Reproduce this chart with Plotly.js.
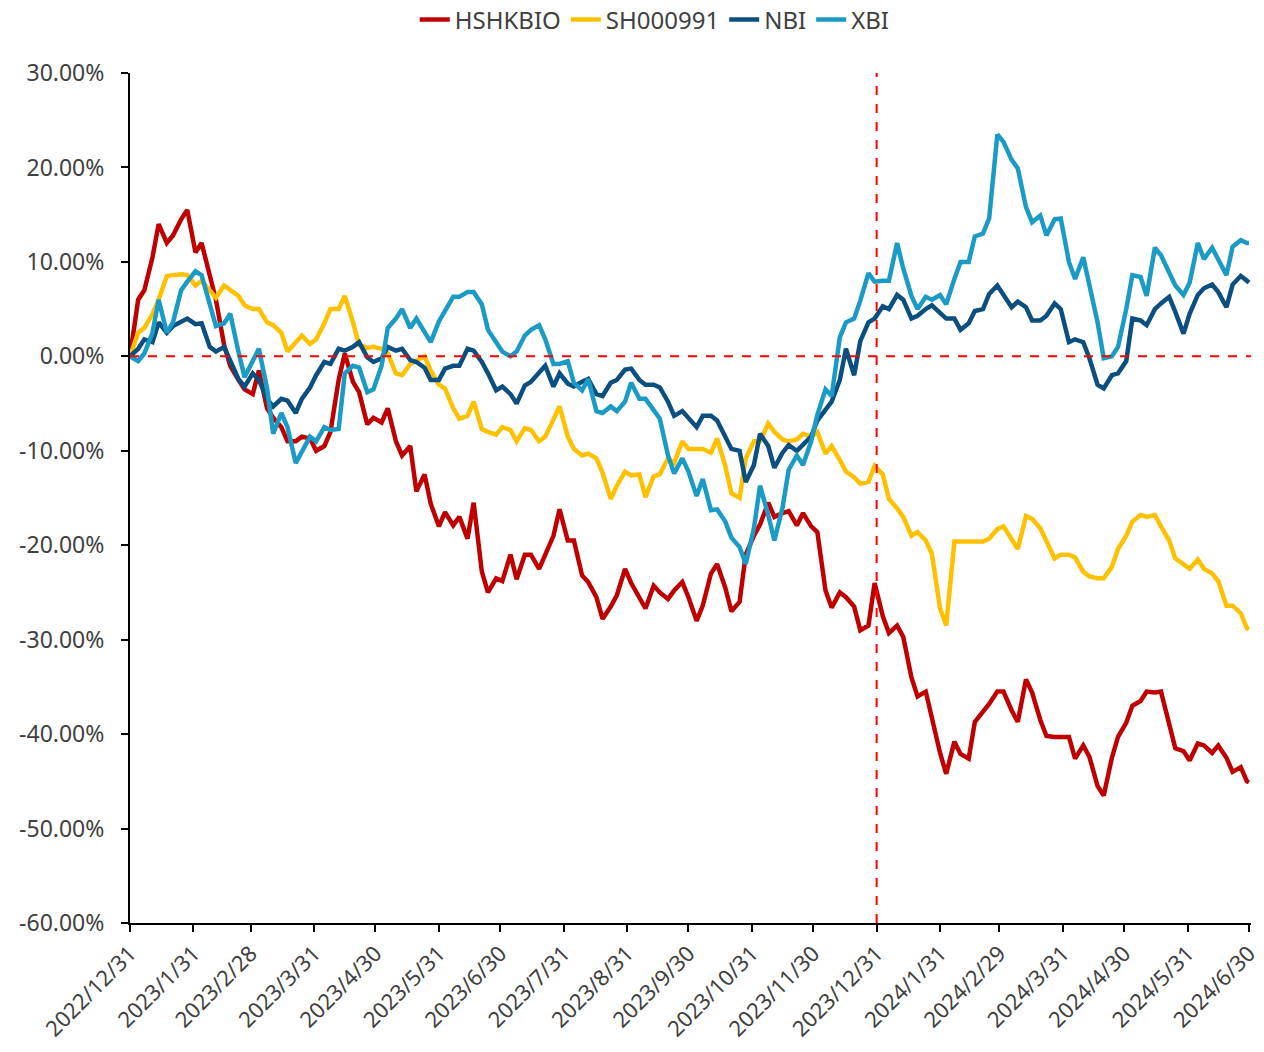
<!DOCTYPE html>
<html>
<head>
<meta charset="utf-8">
<script src="https://cdn.plot.ly/plotly-3.0.1.min.js"></script>
<style>html,body{margin:0;padding:0;background:#fff;}#chart{width:1264px;height:1052px;}</style>
</head>
<body>
<div id="chart"></div>
<script>
const dates = [
"2022-12-31","2023-01-04","2023-01-07","2023-01-11","2023-01-14","2023-01-18","2023-01-21","2023-01-25","2023-01-28","2023-02-01",
"2023-02-04","2023-02-08","2023-02-11","2023-02-15","2023-02-18","2023-02-22","2023-02-25","2023-03-01","2023-03-04","2023-03-08",
"2023-03-11","2023-03-15","2023-03-18","2023-03-22","2023-03-25","2023-03-29","2023-04-01","2023-04-05","2023-04-08","2023-04-12",
"2023-04-15","2023-04-19","2023-04-22","2023-04-26","2023-04-29","2023-05-03","2023-05-06","2023-05-10","2023-05-13","2023-05-17",
"2023-05-20","2023-05-24","2023-05-27","2023-05-31","2023-06-03","2023-06-07","2023-06-10","2023-06-14","2023-06-17","2023-06-21",
"2023-06-24","2023-06-28","2023-07-01","2023-07-05","2023-07-08","2023-07-12","2023-07-15","2023-07-19","2023-07-22","2023-07-26",
"2023-07-29","2023-08-02","2023-08-05","2023-08-09","2023-08-12","2023-08-16","2023-08-19","2023-08-23","2023-08-26","2023-08-30",
"2023-09-02","2023-09-06","2023-09-09","2023-09-13","2023-09-16","2023-09-20","2023-09-23","2023-09-27","2023-09-30","2023-10-04",
"2023-10-07","2023-10-11","2023-10-14","2023-10-18","2023-10-21","2023-10-25","2023-10-28","2023-11-01","2023-11-04","2023-11-08",
"2023-11-11","2023-11-15","2023-11-18","2023-11-22","2023-11-25","2023-11-29","2023-12-02","2023-12-06","2023-12-09","2023-12-13",
"2023-12-16","2023-12-20","2023-12-23","2023-12-27","2023-12-30","2024-01-03","2024-01-06","2024-01-10","2024-01-13","2024-01-17",
"2024-01-20","2024-01-24","2024-01-27","2024-01-31","2024-02-03","2024-02-07","2024-02-10","2024-02-14","2024-02-17","2024-02-21",
"2024-02-24","2024-02-28","2024-03-02","2024-03-06","2024-03-09","2024-03-13","2024-03-16","2024-03-20","2024-03-23","2024-03-27",
"2024-03-30","2024-04-03","2024-04-06","2024-04-10","2024-04-13","2024-04-17","2024-04-20","2024-04-24","2024-04-27","2024-05-01",
"2024-05-04","2024-05-08","2024-05-11","2024-05-15","2024-05-18","2024-05-22","2024-05-25","2024-05-29","2024-06-01","2024-06-05",
"2024-06-08","2024-06-12","2024-06-15","2024-06-19","2024-06-22","2024-06-26","2024-06-29","2024-06-30"
];

const hshkbio = [
0,6.0,7.0,10.5,14.0,12.0,12.8,14.5,15.5,11.0,
12.0,8.5,6.0,1.2,-1.0,-2.5,-3.5,-4.0,-1.5,-5.5,
-6.5,-7.5,-9.0,-9.0,-8.5,-8.7,-10.0,-9.5,-8.0,-2.5,
0.3,-2.7,-3.8,-7.2,-6.5,-7.0,-5.5,-9.0,-10.5,-9.5,
-14.3,-12.5,-15.6,-18.0,-16.5,-17.9,-17.0,-19.3,-15.5,-22.8,
-25.0,-23.5,-23.8,-21.0,-23.6,-21.0,-21.0,-22.5,-21.0,-19.0,
-16.2,-19.5,-19.5,-23.2,-23.9,-25.5,-27.8,-26.5,-25.3,-22.5,
-24.0,-25.5,-26.7,-24.3,-25.0,-25.7,-24.8,-23.9,-25.5,-28.0,
-26.4,-23.0,-22.0,-24.5,-27.0,-26.0,-21.0,-19.0,-17.8,-15.5,
-17.0,-16.6,-16.4,-17.9,-16.6,-18.0,-18.6,-24.8,-26.6,-25.0,
-25.5,-26.5,-29.0,-28.5,-24.0,-27.5,-29.3,-28.5,-29.7,-34.0,
-36.0,-35.5,-38.5,-42.0,-44.2,-40.8,-42.1,-42.6,-38.7,-37.7,
-36.8,-35.5,-35.5,-37.5,-38.7,-34.2,-35.6,-38.5,-40.2,-40.3,
-40.3,-40.3,-42.6,-41.2,-42.4,-45.5,-46.5,-42.5,-40.3,-38.8,
-37.0,-36.5,-35.5,-35.6,-35.5,-39.0,-41.5,-41.8,-42.8,-41.0,
-41.2,-42.0,-41.2,-42.5,-44.0,-43.5,-45.0,-45.1
];

const sh000991 = [
0,2.5,3.0,4.5,6.0,8.5,8.6,8.7,8.6,7.5,
8.0,7.0,6.2,7.5,7.0,6.4,5.4,5.0,5.0,3.6,
3.3,2.5,0.5,1.5,2.2,1.3,1.8,3.5,5.0,5.0,
6.4,3.6,1.2,0.9,1.0,0.8,0.3,-1.8,-2.0,-0.8,
-0.5,0.0,-1.5,-3.0,-3.4,-5.5,-6.6,-6.3,-4.8,-7.7,
-8.0,-8.3,-7.5,-7.8,-9.0,-7.6,-7.8,-9.0,-8.5,-6.8,
-5.3,-8.5,-9.8,-10.5,-10.3,-10.8,-12.3,-15.1,-13.7,-12.2,
-12.6,-12.5,-14.9,-12.7,-12.5,-10.8,-11.3,-9.0,-9.8,-9.8,
-9.8,-10.2,-8.7,-11.6,-14.5,-15.0,-10.8,-9.0,-9.0,-7.1,
-8.0,-8.8,-9.0,-8.8,-8.2,-8.5,-8.0,-10.3,-9.5,-11.0,
-12.2,-12.8,-13.5,-13.3,-11.6,-12.5,-15.1,-16.1,-17.0,-19.0,
-18.6,-19.5,-20.9,-26.7,-28.5,-19.6,-19.6,-19.6,-19.6,-19.6,
-19.3,-18.3,-18.0,-19.5,-20.4,-16.9,-17.2,-18.2,-19.5,-21.4,
-21.0,-21.0,-21.3,-22.8,-23.3,-23.5,-23.5,-22.3,-20.4,-19.0,
-17.5,-16.8,-17.0,-16.8,-18.0,-19.5,-21.4,-22.0,-22.5,-21.5,
-22.5,-23.0,-23.8,-26.4,-26.4,-27.2,-28.8,-28.9
];

const nbi = [
0,0.8,1.8,1.5,3.6,2.5,3.2,3.7,4.0,3.4,
3.5,1.0,0.5,1.0,-0.5,-2.4,-3.2,-1.8,-2.5,-4.5,
-5.3,-4.5,-4.7,-6.0,-4.5,-3.3,-2.0,-0.6,-0.8,0.8,
0.6,1.0,1.5,-0.1,-0.6,-0.2,1.0,0.6,0.8,-0.4,
-0.6,-1.2,-2.5,-2.5,-1.3,-1.0,-1.0,0.8,0.6,-0.6,
-1.8,-3.6,-3.2,-4.0,-5.0,-3.1,-2.7,-1.7,-1.0,-3.2,
-1.8,-2.9,-3.2,-2.7,-2.4,-4.0,-4.2,-2.8,-2.5,-1.4,
-1.3,-2.5,-3.0,-3.0,-3.3,-4.8,-6.3,-5.8,-6.5,-7.5,
-6.3,-6.3,-6.8,-8.5,-9.8,-10.0,-13.3,-11.5,-8.2,-9.5,
-11.8,-10.2,-9.4,-10.0,-9.4,-8.5,-6.8,-5.7,-4.8,-2.5,
0.8,-2.0,1.6,3.6,4.0,5.3,5.0,6.5,6.0,4.0,
4.3,5.0,5.4,4.6,4.0,4.0,2.8,3.5,4.8,5.0,
6.6,7.5,6.5,5.2,5.8,5.2,3.8,3.8,4.3,5.6,
5.0,1.5,1.8,1.5,-0.2,-3.0,-3.4,-2.0,-1.8,-0.5,
4.0,3.8,3.3,5.0,5.6,6.3,4.7,2.4,4.5,6.5,
7.2,7.6,6.8,5.2,7.6,8.5,8.0,7.8
];

const xbi = [
0,-0.5,0.3,2.5,6.0,2.5,3.6,7.0,7.9,9.0,
8.6,5.4,3.2,3.5,4.5,0.5,-2.2,-0.5,0.8,-3.4,
-8.2,-6.0,-7.5,-11.3,-10.1,-8.5,-9.0,-7.5,-7.8,-7.7,
-1.8,-1.0,-1.2,-3.8,-3.5,-1.0,3.0,4.0,5.0,3.0,
4.0,2.6,1.5,3.7,4.8,6.3,6.3,6.8,6.8,5.5,
2.8,1.5,0.5,0.0,0.5,2.2,2.8,3.3,1.8,-0.8,
-0.8,-0.5,-2.8,-3.6,-2.4,-5.8,-6.0,-5.3,-5.8,-4.8,
-2.8,-4.5,-4.5,-5.7,-6.6,-10.5,-12.4,-10.8,-12.2,-14.8,
-13.0,-16.3,-16.2,-17.5,-19.2,-20.2,-22.0,-18.2,-13.7,-16.8,
-19.5,-16.0,-12.0,-10.5,-11.5,-9.0,-6.2,-3.5,-4.2,2.0,
3.6,4.0,5.9,8.8,7.9,8.0,8.0,12.0,9.3,6.4,
5.0,6.3,6.0,6.5,5.5,8.2,10.0,10.0,12.7,13.0,
14.6,23.5,22.7,20.8,19.9,15.8,14.2,14.9,12.8,14.5,
14.6,10.0,8.2,10.5,7.5,3.6,-0.2,0.0,1.0,5.0,
8.6,8.4,6.4,11.5,10.7,9.0,7.5,6.5,7.8,12.0,
10.3,11.5,10.3,8.6,11.6,12.3,12.0,12.0
];

const seriesNames = ["HSHKBIO","SH000991","NBI","XBI"];
const seriesColors = ["#c00000","#ffc000","#0b4f80","#1a9bc5"];

const xTickVals = ["2022-12-31","2023-01-31","2023-02-28","2023-03-31","2023-04-30","2023-05-31","2023-06-30","2023-07-31","2023-08-31","2023-09-30","2023-10-31","2023-11-30","2023-12-31","2024-01-31","2024-02-29","2024-03-31","2024-04-30","2024-05-31","2024-06-30"];
const xTickText = ["2022/12/31","2023/1/31","2023/2/28","2023/3/31","2023/4/30","2023/5/31","2023/6/30","2023/7/31","2023/8/31","2023/9/30","2023/10/31","2023/11/30","2023/12/31","2024/1/31","2024/2/29","2024/3/31","2024/4/30","2024/5/31","2024/6/30"];
const yTickVals = [30,20,10,0,-10,-20,-30,-40,-50,-60];
const yTickText = ["30.00%","20.00%","10.00%","0.00%","-10.00%","-20.00%","-30.00%","-40.00%","-50.00%","-60.00%"];
const markerDate = "2023-12-31";

const values = [hshkbio, sh000991, nbi, xbi];
const traces = values.map((v,i)=>({
  type:"scatter", mode:"lines", x:dates, y:v, name:seriesNames[i],
  line:{color:seriesColors[i], width:4.5}
}));

const fam = "'Noto Sans', 'Open Sans', sans-serif";
const txtColor = "#404040";

const layout = {
  width:1264, height:1052,
  margin:{l:130, r:13, t:73, b:129},
  paper_bgcolor:"#ffffff", plot_bgcolor:"#ffffff",
  font:{family:fam, size:24, color:txtColor},
  showlegend:true,
  legend:{orientation:"h", xref:"container", yref:"container", x:0.518, y:0.981, xanchor:"center", yanchor:"middle",
          font:{family:fam, size:24, color:txtColor}, itemwidth:30, bgcolor:"rgba(0,0,0,0)"},
  xaxis:{type:"date", range:["2022-12-31","2024-07-01"], tickvals:xTickVals, ticktext:xTickText, tickangle:-45,
         ticklabeloverflow:"allow",
         showgrid:false, zeroline:false, showline:true, linecolor:"#000", linewidth:2,
         ticks:"outside", ticklen:7, tickwidth:2, tickcolor:"#000", tickfont:{family:fam, size:22, color:txtColor}},
  yaxis:{range:[-60,30], tickvals:yTickVals, ticktext:yTickText, showgrid:false, zeroline:false,
         showline:true, linecolor:"#000", linewidth:2, ticks:"outside", ticklen:7, tickwidth:2, tickcolor:"#000",
         ticklabelstandoff:12, tickfont:{family:fam, size:23, color:txtColor}},
  shapes:[
    {type:"line", xref:"paper", yref:"y", x0:0, x1:1, y0:0, y1:0, line:{color:"#ff0000", width:2, dash:"dash"}},
    {type:"line", xref:"x", yref:"paper", x0:markerDate, x1:markerDate, y0:0, y1:1, line:{color:"#ff0000", width:2, dash:"dash"}}
  ]
};

Plotly.newPlot("chart", traces, layout, {displayModeBar:false, staticPlot:true});
</script>
</body>
</html>
